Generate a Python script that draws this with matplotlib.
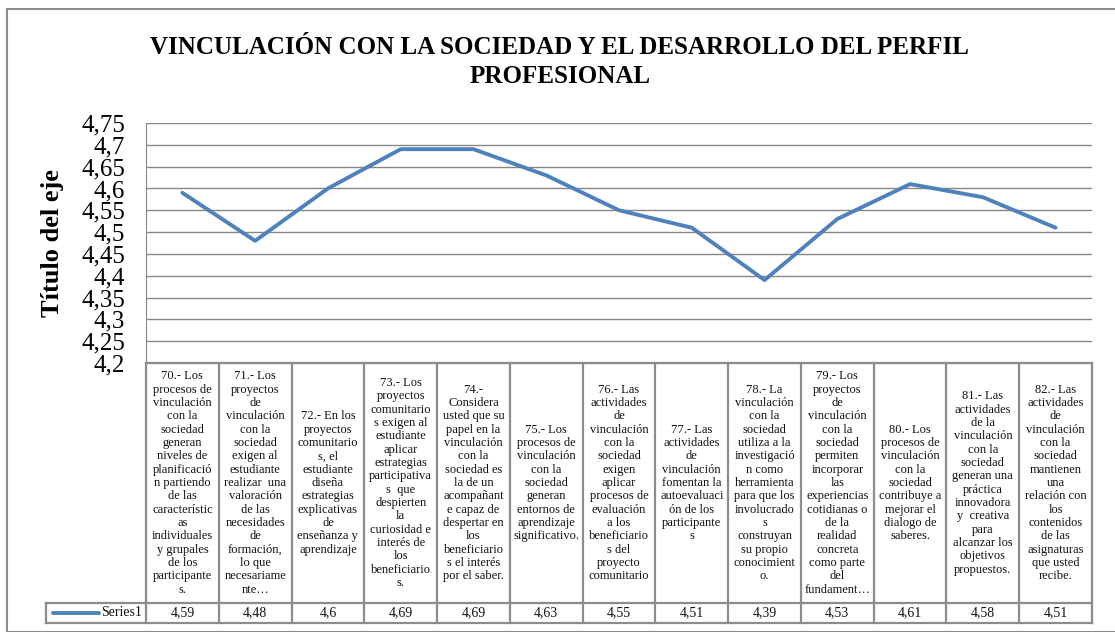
import matplotlib.pyplot as plt
from matplotlib.patches import Rectangle

plt.rcParams['font.family'] = ['Liberation Serif', 'DejaVu Serif']

valores = [4.59, 4.48, 4.6, 4.69, 4.69, 4.63, 4.55, 4.51, 4.39, 4.53, 4.61, 4.58, 4.51]
etiquetas_valor = ["4,59", "4,48", "4,6", "4,69", "4,69", "4,63", "4,55", "4,51",
                   "4,39", "4,53", "4,61", "4,58", "4,51"]
y_ticks = [4.2, 4.25, 4.3, 4.35, 4.4, 4.45, 4.5, 4.55, 4.6, 4.65, 4.7, 4.75]
y_ticklabels = ["4,2", "4,25", "4,3", "4,35", "4,4", "4,45", "4,5", "4,55", "4,6",
                "4,65", "4,7", "4,75"]
categorias = [
    "70.- Los\nprocesos de\nvinculación\ncon la\nsociedad\ngeneran\nniveles de\nplanificació\nn partiendo\nde las\ncaracterístic\nas\nindividuales\ny grupales\nde los\nparticipante\ns.",
    "71.- Los\nproyectos\nde\nvinculación\ncon la\nsociedad\nexigen al\nestudiante\nrealizar  una\nvaloración\nde las\nnecesidades\nde\nformación,\nlo que\nnecesariame\nnte…",
    "72.- En los\nproyectos\ncomunitario\ns, el\nestudiante\ndiseña\nestrategias\nexplicativas\nde\nenseñanza y\naprendizaje",
    "73.- Los\nproyectos\ncomunitario\ns exigen al\nestudiante\naplicar\nestrategias\nparticipativa\ns  que\ndespierten\nla\ncuriosidad e\ninterés de\nlos\nbeneficiario\ns.",
    "74.-\nConsidera\nusted que su\npapel en la\nvinculación\ncon la\nsociedad es\nla de un\nacompañant\ne capaz de\ndespertar en\nlos\nbeneficiario\ns el interés\npor el saber.",
    "75.- Los\nprocesos de\nvinculación\ncon la\nsociedad\ngeneran\nentornos de\naprendizaje\nsignificativo.",
    "76.- Las\nactividades\nde\nvinculación\ncon la\nsociedad\nexigen\naplicar\nprocesos de\nevaluación\na los\nbeneficiario\ns del\nproyecto\ncomunitario",
    "77.- Las\nactividades\nde\nvinculación\nfomentan la\nautoevaluaci\nón de los\nparticipante\ns",
    "78.- La\nvinculación\ncon la\nsociedad\nutiliza a la\ninvestigació\nn como\nherramienta\npara que los\ninvolucrado\ns\nconstruyan\nsu propio\nconocimient\no.",
    "79.- Los\nproyectos\nde\nvinculación\ncon la\nsociedad\npermiten\nincorporar\nlas\nexperiencias\ncotidianas o\nde la\nrealidad\nconcreta\ncomo parte\ndel\nfundament…",
    "80.- Los\nprocesos de\nvinculación\ncon la\nsociedad\ncontribuye a\nmejorar el\ndialogo de\nsaberes.",
    "81.- Las\nactividades\nde la\nvinculación\ncon la\nsociedad\ngeneran una\npráctica\ninnovadora\ny  creativa\npara\nalcanzar los\nobjetivos\npropuestos.",
    "82.- Las\nactividades\nde\nvinculación\ncon la\nsociedad\nmantienen\nuna\nrelación con\nlos\ncontenidos\nde las\nasignaturas\nque usted\nrecibe.",
]
serie = "Series1"
titulo = "VINCULACIÓN CON LA SOCIEDAD Y EL DESARROLLO DEL PERFIL\nPROFESIONAL"
titulo_eje = "Título del eje"

W, H = 1115, 632
fig = plt.figure(figsize=(W / 100, H / 100), dpi=100)

# marco exterior
fig.patches.append(Rectangle((7 / W, 0), 1.2, 1 - 9 / H, transform=fig.transFigure,
                             fill=False, edgecolor="#8c8c8c", linewidth=1.5))

x0, x1 = 146, 1092
ytop, ybot = 123, 363
ax = fig.add_axes([x0 / W, 1 - ybot / H, (x1 - x0) / W, (ybot - ytop) / H])
ax.patch.set_alpha(0)
n = len(valores)
xs = [i + 0.5 for i in range(n)]
ax.plot(xs, valores, color="#4f81bd", linewidth=2.8, solid_capstyle="round", zorder=3)
ax.set_xlim(0, n)
ax.set_ylim(4.2, 4.75)
ax.set_yticks(y_ticks)
ax.set_yticklabels(y_ticklabels, fontsize=18)
ax.tick_params(axis="y", length=0, pad=15)
ax.tick_params(axis="x", length=0, labelbottom=False)
ax.grid(axis="y", color="#868686", linewidth=1)
for s in ["top", "right"]:
    ax.spines[s].set_visible(False)
ax.spines["left"].set_color("#868686")
ax.spines["bottom"].set_color("#868686")
ax.set_ylabel(titulo_eje, fontsize=19, fontweight="bold")
ax.yaxis.set_label_coords(-(x0 - 64) / (x1 - x0), 0.5)

fig.text(0.502, 1 - 62 / H, titulo, ha="center", va="center", fontsize=18,
         fontweight="bold", linespacing=1.3)

# tabla de datos
yrow = 603
ybot_t = 623
xleg = 46
colw = (x1 - x0) / n
lc = "#8c8c8c"
for i in range(n + 1):
    x = x0 + i * colw
    fig.add_artist(plt.Line2D([x / W, x / W], [1 - ybot_t / H, 1 - ybot / H],
                              color=lc, linewidth=1.6, transform=fig.transFigure))
fig.add_artist(plt.Line2D([x0 / W, x1 / W], [1 - ybot / H, 1 - ybot / H],
                          color=lc, linewidth=1.6, transform=fig.transFigure))
fig.add_artist(plt.Line2D([xleg / W, x1 / W], [1 - yrow / H, 1 - yrow / H],
                          color=lc, linewidth=1.6, transform=fig.transFigure))
fig.add_artist(plt.Line2D([xleg / W, x1 / W], [1 - ybot_t / H, 1 - ybot_t / H],
                          color=lc, linewidth=1.6, transform=fig.transFigure))
fig.add_artist(plt.Line2D([xleg / W, xleg / W], [1 - ybot_t / H, 1 - yrow / H],
                          color=lc, linewidth=1.6, transform=fig.transFigure))

for i in range(n):
    cx = (x0 + (i + 0.5) * colw) / W
    fig.text(cx, 1 - (ybot + yrow) / 2 / H, categorias[i], ha="center", va="center",
             fontsize=9, linespacing=1.15, color="#111111")
    fig.text(cx, 1 - (yrow + ybot_t) / 2 / H, etiquetas_valor[i], ha="center",
             va="center", fontsize=10, color="#111111")

ym = 1 - (yrow + ybot_t) / 2 / H
fig.add_artist(plt.Line2D([53 / W, 99 / W], [ym, ym], color="#4f81bd", linewidth=2.8,
                          solid_capstyle="round", transform=fig.transFigure))
fig.text(142 / W, ym, serie, ha="right", va="center", fontsize=10, color="#111111")

fig.savefig("out.png", dpi=100)
